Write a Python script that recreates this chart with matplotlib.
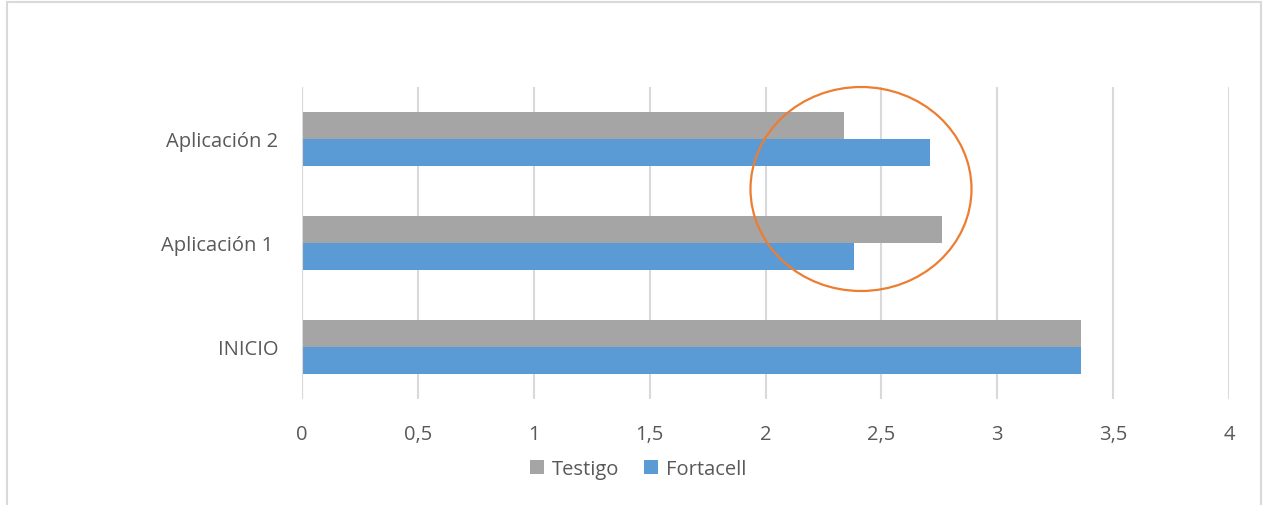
import matplotlib
matplotlib.use("Agg")
import matplotlib.pyplot as plt
from matplotlib.patches import Ellipse, Rectangle, Patch

categories = ["INICIO", "Aplicación 1 ", "Aplicación 2"]
testigo = [3.36, 2.76, 2.34]
fortacell = [3.36, 2.38, 2.71]
xticks = [0, 0.5, 1, 1.5, 2, 2.5, 3, 3.5, 4]
xtick_labels = ["0", "0,5", "1", "1,5", "2", "2,5", "3", "3,5", "4"]

W, H = 1267, 506
fig = plt.figure(figsize=(W / 100, H / 100), dpi=100)
plt.rcParams['font.family'] = ['Open Sans', 'DejaVu Sans']

ax = fig.add_axes([302 / W, 1 - 400 / H, (1229 - 302) / W, (400 - 88) / H])
grey = "#A5A5A5"
blue = "#5B9BD5"
text_c = "#595959"

bh = 0.26
ypos = list(range(len(categories)))
ax.barh([y + bh / 2 for y in ypos], testigo, height=bh, color=grey, zorder=3)
ax.barh([y - bh / 2 for y in ypos], fortacell, height=bh, color=blue, zorder=3)

ax.set_xlim(0, 4)
ax.set_ylim(-0.5, 2.5)
ax.set_xticks(xticks)
ax.set_xticklabels(xtick_labels)
ax.set_yticks(ypos)
ax.set_yticklabels(categories)
ax.tick_params(axis='both', length=0, labelsize=14.5, colors=text_c)
ax.tick_params(axis='x', pad=18)
ax.tick_params(axis='y', pad=17)
for s in ax.spines.values():
    s.set_visible(False)
ax.grid(axis='x', color="#D9D9D9", linewidth=1.5, zorder=0)
ax.axvline(0, color="#D9D9D9", linewidth=1.5, zorder=4)

# orange annotation ellipse (figure pixel coordinates)
ell = Ellipse((861 / W, 1 - 190 / H), 221 / W, 204 / H, transform=fig.transFigure,
              fill=False, edgecolor="#ED7D31", linewidth=1.6, zorder=10)
fig.patches.append(ell)

# outer chart border
border = Rectangle((7 / W, -0.05), (1261 - 7) / W, 1 - 3 / H + 0.05,
                   transform=fig.transFigure, fill=False, edgecolor="#D9D9D9", linewidth=1.5)
fig.patches.append(border)

handles = [Patch(facecolor=grey, label="Testigo"), Patch(facecolor=blue, label="Fortacell")]
fig.legend(handles=handles, loc='center', bbox_to_anchor=(638 / W, 1 - 470 / H), ncol=2,
           frameon=False, fontsize=14.5, labelcolor=text_c, handlelength=0.7, handleheight=0.7,
           handletextpad=0.4, columnspacing=1.2)

fig.savefig("out.png", dpi=100)
